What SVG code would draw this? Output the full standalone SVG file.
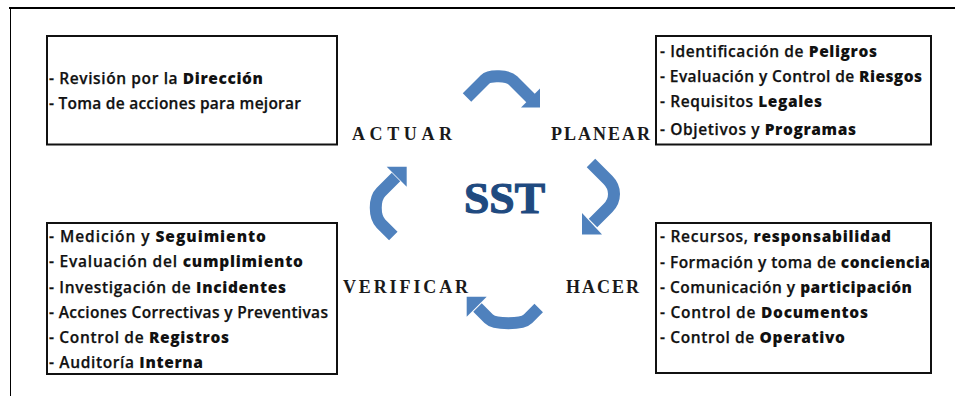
<svg xmlns="http://www.w3.org/2000/svg" width="955" height="396" viewBox="0 0 955 396">
<style>
.frame{stroke:#000;fill:none}
.box{fill:#fff;stroke:#111;stroke-width:2}
.item{font-family:"Open Sans","Noto Sans","Liberation Sans",sans-serif;font-size:15.5px;font-weight:600;fill:#111;stroke:#111;stroke-width:0.25}
.b{font-weight:800;stroke-width:0}
.lbl{font-family:"Liberation Serif","Times New Roman",serif;font-size:18px;font-weight:bold;fill:#1a1a1a}
.sst{font-family:"Liberation Serif","Times New Roman",serif;font-size:44px;font-weight:bold;fill:#1f4a80;stroke:#1f4a80;stroke-width:1.2}
.band{fill:none;stroke:#4f81bd;stroke-width:12;stroke-linejoin:round}
.head{fill:#4f81bd}
</style>
<rect width="955" height="396" fill="#fff"/>
<g id="frame">
<line class="frame" x1="9" y1="8" x2="955" y2="8" stroke-width="2"/>
<line class="frame" x1="10.5" y1="8" x2="10.5" y2="396" stroke-width="1"/>
</g>
<g id="actuar">
<rect class="box" x="47" y="36" width="290" height="108.5"/>
<text class="item" x="49" y="84" textLength="214" lengthAdjust="spacing">- Revisión por la <tspan class="b">Dirección</tspan></text>
<text class="item" x="49" y="109" textLength="252" lengthAdjust="spacing">- Toma de acciones para mejorar</text>
<text class="lbl" x="352" y="140" textLength="100" lengthAdjust="spacing">ACTUAR</text>
</g>
<g id="planear">
<rect class="box" x="656" y="36" width="275" height="108.5"/>
<text class="item" x="660" y="57" textLength="217" lengthAdjust="spacing">- Identificación de <tspan class="b">Peligros</tspan></text>
<text class="item" x="660" y="82" textLength="262" lengthAdjust="spacing">- Evaluación y Control de <tspan class="b">Riesgos</tspan></text>
<text class="item" x="660" y="107" textLength="162" lengthAdjust="spacing">- Requisitos <tspan class="b">Legales</tspan></text>
<text class="item" x="660" y="135" textLength="196" lengthAdjust="spacing">- Objetivos y <tspan class="b">Programas</tspan></text>
<text class="lbl" x="551" y="139.5" textLength="99" lengthAdjust="spacing">PLANEAR</text>
</g>
<g id="hacer">
<rect class="box" x="656" y="223" width="275" height="150"/>
<text class="item" x="660" y="242" textLength="231" lengthAdjust="spacing">- Recursos, <tspan class="b">responsabilidad</tspan></text>
<text class="item" x="660" y="267.5" textLength="270" lengthAdjust="spacing">- Formación y toma de <tspan class="b">conciencia</tspan></text>
<text class="item" x="660" y="293" textLength="252" lengthAdjust="spacing">- Comunicación y <tspan class="b">participación</tspan></text>
<text class="item" x="660" y="318" textLength="208" lengthAdjust="spacing">- Control de <tspan class="b">Documentos</tspan></text>
<text class="item" x="660" y="343" textLength="185" lengthAdjust="spacing">- Control de <tspan class="b">Operativo</tspan></text>
<text class="lbl" x="566" y="293.3" textLength="73" lengthAdjust="spacing">HACER</text>
</g>
<g id="verificar">
<rect class="box" x="47" y="223" width="290" height="151"/>
<text class="item" x="49" y="242" textLength="217" lengthAdjust="spacing">- Medición y <tspan class="b">Seguimiento</tspan></text>
<text class="item" x="49" y="267" textLength="254" lengthAdjust="spacing">- Evaluación del <tspan class="b">cumplimiento</tspan></text>
<text class="item" x="49" y="293" textLength="237" lengthAdjust="spacing">- Investigación de <tspan class="b">Incidentes</tspan></text>
<text class="item" x="49" y="318" textLength="279" lengthAdjust="spacing">- Acciones Correctivas y Preventivas</text>
<text class="item" x="49" y="343" textLength="180" lengthAdjust="spacing">- Control de <tspan class="b">Registros</tspan></text>
<text class="item" x="49" y="368" textLength="154" lengthAdjust="spacing">- Auditoría <tspan class="b">Interna</tspan></text>
<text class="lbl" x="343" y="293.3" textLength="125" lengthAdjust="spacing">VERIFICAR</text>
</g>
<g id="sst">
<text class="sst" x="504.5" y="213" text-anchor="middle" textLength="81" lengthAdjust="spacingAndGlyphs">SST</text>
</g>
<g id="connectors">
<path class="band" d="M467,97.5 L485,79.5 C490,74.5 508,75.5 513,80.5 L531,98.5"/>
<polygon class="head" points="540,88.5 540,107.5 521,107.5"/>
<path class="band" d="M591,163 L608,180 C616,188 616,200 608,208 L593,223"/>
<polygon class="head" points="582,213 582,234.5 602,234.5"/>
<path class="band" d="M538.7,308 L528,318.7 C522,324.7 494.7,324.7 488.7,318.7 L477.5,307.5"/>
<polygon class="head" points="466.7,296.7 466.7,316.7 486.7,296.7"/>
<path class="band" d="M393.3,236 L381,223.7 C374,216.7 374,199 381,192 L396,177"/>
<polygon class="head" points="386.7,166.7 406.7,166.7 406.7,186.7"/>
</g>
</svg>
